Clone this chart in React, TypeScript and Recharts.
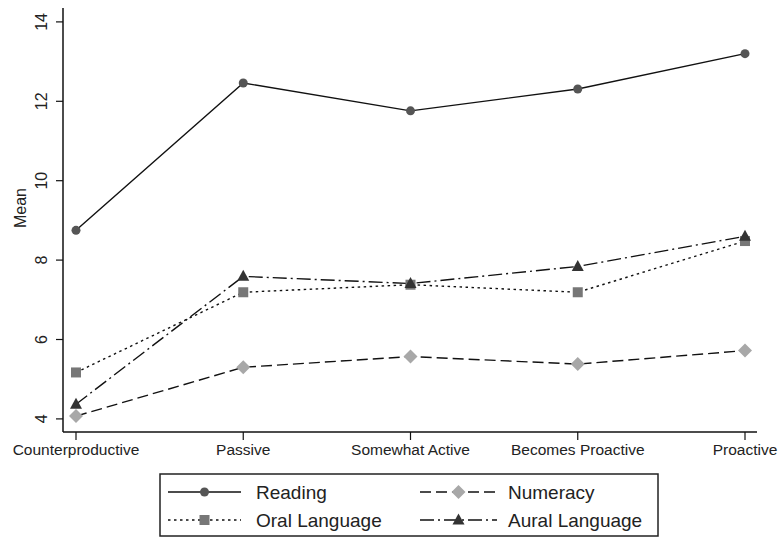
import React from "react"
import { LineChart, Line, XAxis, YAxis } from "recharts"

const categories = ["Counterproductive", "Passive", "Somewhat Active", "Becomes Proactive", "Proactive"]
const reading = [8.75, 12.46, 11.76, 12.31, 13.2]
const numeracy = [4.07, 5.3, 5.57, 5.38, 5.72]
const oral = [5.17, 7.19, 7.38, 7.19, 8.48]
const aural = [4.37, 7.59, 7.41, 7.84, 8.6]
const yTicks = [4, 6, 8, 10, 12, 14]

const data = categories.map((name, i) => ({
  name,
  reading: reading[i],
  numeracy: numeracy[i],
  oral: oral[i],
  aural: aural[i],
}))

type Shape = "circle" | "diamond" | "square" | "triangle"

const series: { key: string; label: string; dash?: string; shape: Shape; color: string }[] = [
  { key: "reading", label: "Reading", shape: "circle", color: "#555" },
  { key: "numeracy", label: "Numeracy", dash: "11 5", shape: "diamond", color: "#a8a8a8" },
  { key: "oral", label: "Oral Language", dash: "2.5 3.5", shape: "square", color: "#777" },
  { key: "aural", label: "Aural Language", dash: "14 4 2 4", shape: "triangle", color: "#333" },
]

const font = "'Liberation Sans', Arial, sans-serif"

function Marker({ cx, cy, shape, color }: { cx: number; cy: number; shape: Shape; color: string }) {
  if (shape === "circle") return <circle cx={cx} cy={cy} r={4.5} fill={color} />
  if (shape === "diamond")
    return <polygon points={`${cx},${cy - 7} ${cx + 7},${cy} ${cx},${cy + 7} ${cx - 7},${cy}`} fill={color} />
  if (shape === "square") return <rect x={cx - 5} y={cy - 5} width={10} height={10} fill={color} />
  return <polygon points={`${cx},${cy - 6.5} ${cx + 6},${cy + 4.5} ${cx - 6},${cy + 4.5}`} fill={color} />
}

function YTick(props: any) {
  const { y, payload } = props
  return (
    <text
      x={47}
      y={y}
      transform={`rotate(-90, 47, ${y})`}
      textAnchor="middle"
      fontSize={16}
      fontFamily={font}
      fill="#222"
    >
      {payload.value}
    </text>
  )
}

function XTick(props: any) {
  const { x, y, payload } = props
  return (
    <text x={x} y={y + 13} textAnchor="middle" fontSize={15.5} fontFamily={font} fill="#222">
      {payload.value}
    </text>
  )
}

// legend drawn over the page below the plot, laid out like the original
function LegendBox() {
  const rows = [
    [series[0], series[1]],
    [series[2], series[3]],
  ]
  const cols = [
    { x1: 9, x2: 82, tx: 97 },
    { x1: 261, x2: 338, tx: 349 },
  ]
  return (
    <svg width={500} height={64} style={{ display: "block" }}>
      <rect x={1} y={1} width={498} height={62} fill="white" stroke="#222" strokeWidth={1.5} />
      {rows.map((row, r) =>
        row.map((s, c) => {
          const cy = 19 + r * 28
          const col = cols[c]
          return (
            <g key={s.key}>
              <line x1={col.x1} x2={col.x2} y1={cy} y2={cy} stroke="#111" strokeWidth={1.3} strokeDasharray={s.dash} />
              <Marker cx={(col.x1 + col.x2) / 2} cy={cy} shape={s.shape} color={s.color} />
              <text x={col.tx} y={cy + 7} fontSize={19} fontFamily={font} fill="#222">
                {s.label}
              </text>
            </g>
          )
        })
      )}
    </svg>
  )
}

export default function App() {
  return (
    <div style={{ position: "absolute", left: 0, top: 0, width: 783, height: 539, background: "white" }}>
      <LineChart width={783} height={539} data={data} margin={{ top: 8, right: 26, bottom: 0, left: 0 }}>
        <XAxis
          dataKey="name"
          height={107}
          padding={{ left: 13, right: 12 }}
          tick={<XTick />}
          tickSize={8}
          tickLine={{ stroke: "#111", strokeWidth: 1.2 }}
          axisLine={{ stroke: "#111", strokeWidth: 1.5 }}
          interval={0}
        />
        <XAxis xAxisId="top" orientation="top" dataKey="name" height={0} tick={false} tickLine={false} axisLine={{ stroke: "#111", strokeWidth: 1.5 }} />
        <YAxis
          width={63}
          domain={[3.67, 14.35]}
          ticks={yTicks}
          allowDataOverflow
          tick={<YTick />}
          tickSize={7}
          tickLine={{ stroke: "#111", strokeWidth: 1.2 }}
          axisLine={{ stroke: "#111", strokeWidth: 1.5 }}
          label={{
            value: "Mean",
            angle: -90,
            position: "insideLeft",
            offset: 0,
            style: { fontSize: 16, fontFamily: font, fill: "#222", textAnchor: "middle" },
            dx: 20,
            dy: -12,
          }}
        />
        <YAxis yAxisId="right" orientation="right" width={0} tick={false} tickLine={false} axisLine={{ stroke: "#111", strokeWidth: 1.5 }} />
        {series.map((s) => (
          <Line
            key={s.key}
            dataKey={s.key}
            stroke="#111"
            strokeWidth={1.4}
            strokeDasharray={s.dash}
            isAnimationActive={false}
            dot={(p: any) => <Marker key={`${s.key}-${p.index}`} cx={p.cx} cy={p.cy} shape={s.shape} color={s.color} />}
            activeDot={false}
          />
        ))}
      </LineChart>
      <div style={{ position: "absolute", left: 159, top: 473 }}>
        <LegendBox />
      </div>
    </div>
  )
}
